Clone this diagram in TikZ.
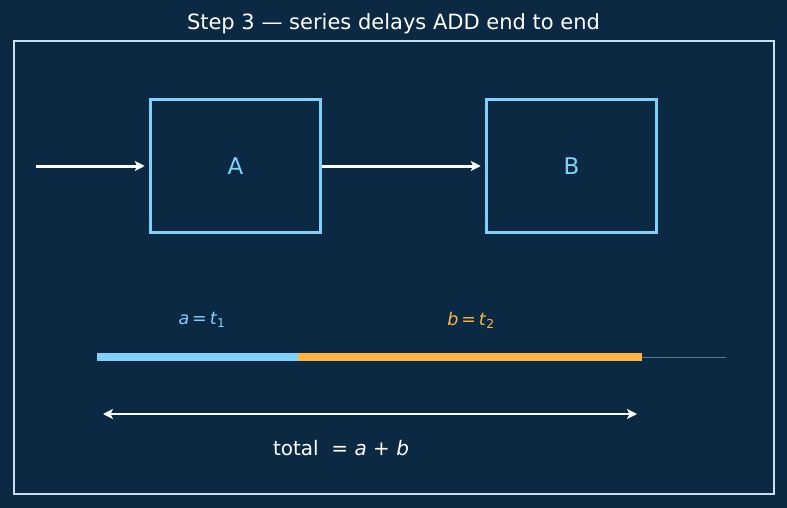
\documentclass[tikz,border=0pt]{standalone}
\usepackage{fontspec}
\setmainfont{DejaVu Sans}
\usepackage{tikz}
\usetikzlibrary{arrows.meta, positioning, calc}
\definecolor{NavyBg}{HTML}{0B2942}
\definecolor{SkyBlue}{HTML}{82CFFA}
\definecolor{BarOrange}{HTML}{FDB447}
\definecolor{FrameGray}{HTML}{C9DFEE}
\definecolor{RestGray}{HTML}{5C7890}
\tikzset{
    delaybox/.style={rectangle, draw=SkyBlue, line width=3.5pt,
        minimum width=170pt, minimum height=133pt, text=SkyBlue, font=\fontsize{23}{27}\selectfont},
    flowarrow/.style={-{Stealth[length=10pt, width=10pt, inset=2.5pt]}, line width=3pt, white},
    spanarrow/.style={{Stealth[length=10pt, width=10pt, inset=2.5pt]}-{Stealth[length=10pt, width=10pt, inset=2.5pt]}, line width=2.5pt, white},
    barline/.style={line width=7.5pt},
    delaylabel/.style={font=\fontsize{17.5}{20}\selectfont},
}

\begin{document}
\begin{tikzpicture}[x=1pt, y=-1pt]
    \fill[NavyBg] (0,0) rectangle (787,508);
    \useasboundingbox (0,0) rectangle (787,508);
    % title and frame
    \node[white, font=\fontsize{21}{25}\selectfont] (title) at (393.5,24) {Step 3 — series delays ADD end to end};
    \draw[FrameGray, line width=1.5pt] (14,41) rectangle (774,494);

    % the two delays in series
    \node[delaybox] (A) at (235.5,166) {A};
    \node[delaybox] (B) at (571.5,166) {B};
    \coordinate (in) at (36,166);
    \draw[flowarrow] (in) -- ([xshift=-4pt]A.west);
    \draw[flowarrow] (A.east) -- ([xshift=-4pt]B.west);

    % time bar
    \coordinate (t0) at (97,357);
    \coordinate (t1) at (298,357);
    \coordinate (t2) at (642,357);
    \coordinate (tend) at (726,357);
    \draw[RestGray, line width=0.8pt] (t2) -- (tend);
    \draw[barline, SkyBlue] (t0) -- (t1);
    \draw[barline, BarOrange] (t1) -- (t2);
    \node[delaylabel, text=SkyBlue] (la) at (202,320) {\textit{a}\,=\,\textit{t}\textsubscript{1}};
    \node[delaylabel, text=BarOrange] (lb) at (471,320) {\textit{b}\,=\,\textit{t}\textsubscript{2}};

    % total
    \coordinate (s0) at (103,414);
    \coordinate (s1) at (637,414);
    \draw[spanarrow] (s0) -- (s1);
    \node[white, font=\fontsize{20}{24}\selectfont] (total) at (341,448) {total \ = \textit{a} + \textit{b}};
\end{tikzpicture}
\end{document}
